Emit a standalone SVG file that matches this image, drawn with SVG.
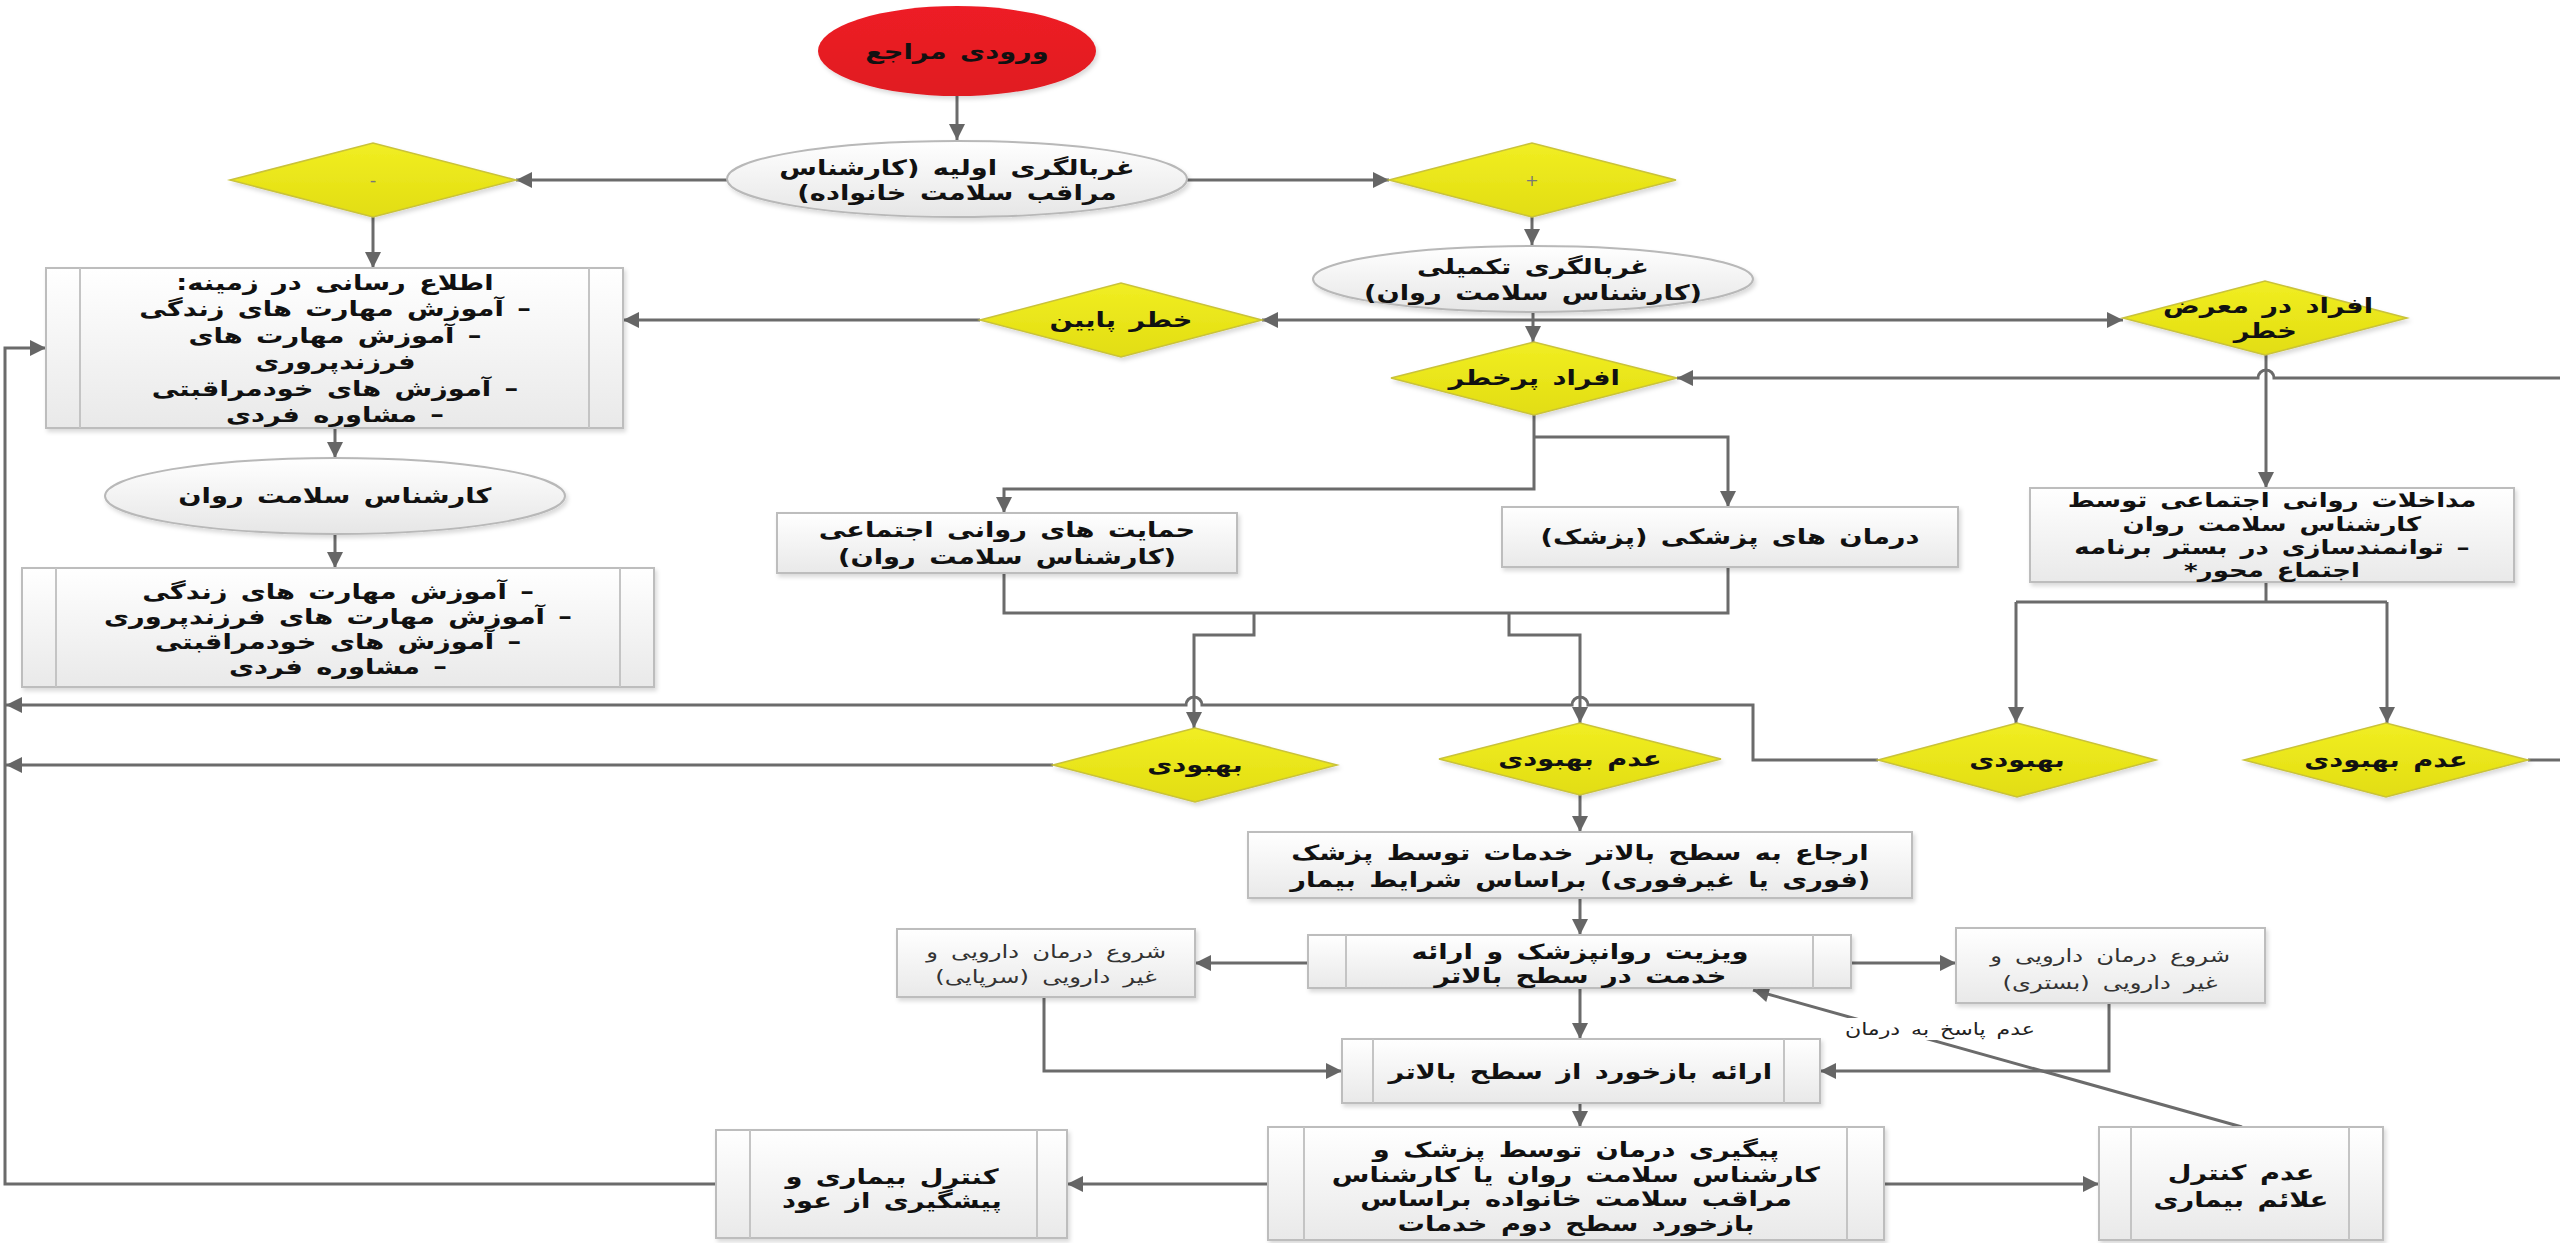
<svg xmlns="http://www.w3.org/2000/svg" width="2560" height="1243" viewBox="0 0 2560 1243">
<defs>
<linearGradient id="gBox" x1="0" y1="0" x2="0" y2="1"><stop offset="0" stop-color="#ffffff"/><stop offset="1" stop-color="#e9e9e9"/></linearGradient>
<linearGradient id="gEll" x1="0" y1="0" x2="0" y2="1"><stop offset="0" stop-color="#ffffff"/><stop offset="1" stop-color="#e6e6e6"/></linearGradient>
<linearGradient id="gDia" x1="0" y1="0" x2="0" y2="1"><stop offset="0" stop-color="#f1ee22"/><stop offset="1" stop-color="#e2dd12"/></linearGradient>
<linearGradient id="gRed" x1="0" y1="0" x2="0" y2="1"><stop offset="0" stop-color="#ee1c25"/><stop offset="1" stop-color="#e01a22"/></linearGradient>
<filter id="sh" x="-5%" y="-5%" width="110%" height="120%"><feDropShadow dx="2" dy="3" stdDeviation="2" flood-color="#000" flood-opacity="0.15"/></filter>
<marker id="ar" viewBox="0 0 10 10" refX="10" refY="5" markerWidth="18" markerHeight="16" markerUnits="userSpaceOnUse" orient="auto"><path d="M0,0 L10,5 L0,10 z" fill="#666"/></marker>
</defs>
<style>
.conn{fill:none;stroke:#6b6b6b;stroke-width:3}
.box{fill:url(#gBox);stroke:#bdbdbd;stroke-width:2;filter:url(#sh)}
.inner{stroke:#c4c4c4;stroke-width:2}
.ell{fill:url(#gEll);stroke:#b8b8b8;stroke-width:2;filter:url(#sh)}
.dia{fill:url(#gDia);stroke:#c9c23a;stroke-width:1.5;filter:url(#sh)}
.red{fill:url(#gRed);filter:url(#sh)}
text{font-family:"DejaVu Sans",sans-serif;fill:#111;text-anchor:middle;direction:rtl;transform-box:fill-box;transform-origin:center}
.t{font-size:21px;font-weight:bold;word-spacing:3px;transform:scaleX(1.3)}
.tm{font-size:20px;font-weight:bold;word-spacing:3px;transform:scaleX(1.3)}
.ts{font-size:18px;font-weight:normal;fill:#333;word-spacing:4px;transform:scaleX(1.35)}
.tl{font-size:17px;font-weight:normal;fill:#222;word-spacing:3px;transform:scaleX(1.3)}
.sym{font-size:18px;font-weight:normal;fill:#777}
</style>
<rect width="2560" height="1243" fill="#ffffff"/>

<g id="connectors">
<path class="conn" d="M957,96 V140" marker-end="url(#ar)"/>
<path class="conn" d="M727,180 H516" marker-end="url(#ar)"/>
<path class="conn" d="M1187,180 H1389" marker-end="url(#ar)"/>
<path class="conn" d="M373,217 V268" marker-end="url(#ar)"/>
<path class="conn" d="M1532,217 V245" marker-end="url(#ar)"/>
<path class="conn" d="M1533,312 V342" marker-end="url(#ar)"/>
<path class="conn" d="M1533,320 H1262" marker-end="url(#ar)"/>
<path class="conn" d="M1533,320 H2123" marker-end="url(#ar)"/>
<path class="conn" d="M980,320 H623" marker-end="url(#ar)"/>
<path class="conn" d="M335,428 V458" marker-end="url(#ar)"/>
<path class="conn" d="M335,534 V568" marker-end="url(#ar)"/>
<path class="conn" d="M2266,355 V488" marker-end="url(#ar)"/>
<path class="conn" d="M2560,378 H2274 A8,8 0 0 0 2258,378 H1677" marker-end="url(#ar)"/>
<path class="conn" d="M1534,415 V489 H1004 V513" marker-end="url(#ar)"/>
<path class="conn" d="M1534,437 H1728 V507" marker-end="url(#ar)"/>
<path class="conn" d="M1004,573 V613 H1728 V567"/>
<path class="conn" d="M1254,613 V635 H1194 V728" marker-end="url(#ar)"/>
<path class="conn" d="M1509,613 V635 H1580 V723" marker-end="url(#ar)"/>
<path class="conn" d="M1878,760 H1753 V705 H1588 A8,8 0 0 0 1572,705 H1202 A8,8 0 0 0 1186,705 H6" marker-end="url(#ar)"/>
<path class="conn" d="M1053,765 H6" marker-end="url(#ar)"/>
<path class="conn" d="M2266,582 V602"/>
<path class="conn" d="M2016,602 H2387"/>
<path class="conn" d="M2016,602 V723" marker-end="url(#ar)"/>
<path class="conn" d="M2387,602 V723" marker-end="url(#ar)"/>
<path class="conn" d="M2528,760 H2560"/>
<path class="conn" d="M1580,795 V832" marker-end="url(#ar)"/>
<path class="conn" d="M1580,898 V935" marker-end="url(#ar)"/>
<path class="conn" d="M1308,963 H1195" marker-end="url(#ar)"/>
<path class="conn" d="M1851,963 H1956" marker-end="url(#ar)"/>
<path class="conn" d="M1580,988 V1039" marker-end="url(#ar)"/>
<path class="conn" d="M1044,997 V1071 H1342" marker-end="url(#ar)"/>
<path class="conn" d="M2109,1003 V1071 H1820" marker-end="url(#ar)"/>
<path class="conn" d="M1580,1103 V1127" marker-end="url(#ar)"/>
<path class="conn" d="M1268,1184 H1067" marker-end="url(#ar)"/>
<path class="conn" d="M1884,1184 H2099" marker-end="url(#ar)"/>
<path class="conn" d="M2242,1127 L1753,990" marker-end="url(#ar)"/>
<path class="conn" d="M716,1184 H5 V348 H46" marker-end="url(#ar)"/>
<g id="label-no-response">
<rect x="1834" y="1018" width="212" height="22" fill="#ffffff"/>
<text class="tl" x="1940" y="1035">عدم پاسخ به درمان</text>
</g>
</g>

<g id="n-entry">
<ellipse class="red" cx="957" cy="51" rx="139" ry="45"/>
<text class="t" x="957" y="59">ورودی مراجع</text>
</g>
<g id="n-primary">
<ellipse class="ell" cx="957" cy="179" rx="230" ry="38"/>
<text class="t" x="957" y="175">غربالگری اولیه (کارشناس</text>
<text class="t" x="957" y="200">مراقب سلامت خانواده)</text>
</g>
<g id="d-minus">
<polygon class="dia" points="230,180 373,143 516,180 373,217"/>
<text class="sym" x="373" y="186">-</text>
</g>
<g id="d-plus">
<polygon class="dia" points="1389,180 1532,143 1676,180 1532,217"/>
<text class="sym" x="1532" y="186" style="font-size:16px">+</text>
</g>
<g id="n-complementary">
<ellipse class="ell" cx="1533" cy="279" rx="220" ry="33"/>
<text class="t" x="1533" y="274">غربالگری تکمیلی</text>
<text class="t" x="1533" y="300">(کارشناس سلامت روان)</text>
</g>
<g id="d-lowrisk">
<polygon class="dia" points="980,320 1121,283 1262,320 1121,357"/>
<text class="t" x="1121" y="327">خطر پایین</text>
</g>
<g id="d-atrisk">
<polygon class="dia" points="2123,318 2265,281 2407,318 2265,355"/>
<text class="t" x="2268" y="313">افراد در معرض</text>
<text class="t" x="2265" y="338">خطر</text>
</g>
<g id="d-highrisk">
<polygon class="dia" points="1391,378 1534,342 1677,378 1534,415"/>
<text class="t" x="1534" y="385">افراد پرخطر</text>
</g>
<g id="n-info">
<rect class="box" x="46" y="268" width="577" height="160"/>
<line class="inner" x1="80" y1="268" x2="80" y2="428"/>
<line class="inner" x1="589" y1="268" x2="589" y2="428"/>
<text class="t" x="335" y="290">اطلاع رسانی در زمینه:</text>
<text class="t" x="335" y="316">– آموزش مهارت های زندگی</text>
<text class="t" x="335" y="343">– آموزش مهارت های</text>
<text class="t" x="335" y="369">فرزندپروری</text>
<text class="t" x="335" y="396">– آموزش های خودمراقبتی</text>
<text class="t" x="335" y="422">– مشاوره فردی</text>
</g>
<g id="n-expert">
<ellipse class="ell" cx="335" cy="496" rx="230" ry="38"/>
<text class="t" x="335" y="503">کارشناس سلامت روان</text>
</g>
<g id="n-training">
<rect class="box" x="22" y="568" width="632" height="119"/>
<line class="inner" x1="56" y1="568" x2="56" y2="687"/>
<line class="inner" x1="620" y1="568" x2="620" y2="687"/>
<text class="t" x="338" y="599">– آموزش مهارت های زندگی</text>
<text class="t" x="338" y="624">– آموزش مهارت های فرزندپروری</text>
<text class="t" x="338" y="649">– آموزش های خودمراقبتی</text>
<text class="t" x="338" y="674">– مشاوره فردی</text>
</g>
<g id="n-psychosocial">
<rect class="box" x="777" y="513" width="460" height="60"/>
<text class="t" x="1007" y="537">حمایت های روانی اجتماعی</text>
<text class="t" x="1007" y="564">(کارشناس سلامت روان)</text>
</g>
<g id="n-medical">
<rect class="box" x="1502" y="507" width="456" height="60"/>
<text class="t" x="1730" y="544">درمان های پزشکی (پزشک)</text>
</g>
<g id="n-interventions">
<rect class="box" x="2030" y="488" width="484" height="94"/>
<text class="tm" x="2272" y="507">مداخلات روانی اجتماعی توسط</text>
<text class="tm" x="2272" y="531">کارشناس سلامت روان</text>
<text class="tm" x="2272" y="554">– توانمندسازی در بستر برنامه</text>
<text class="tm" x="2272" y="577">اجتماع محور*</text>
</g>
<g id="d-improve-c">
<polygon class="dia" points="1053,765 1195,728 1337,765 1195,802"/>
<text class="t" x="1195" y="772">بهبودی</text>
</g>
<g id="d-noimprove-c">
<polygon class="dia" points="1439,759 1580,723 1721,759 1580,795"/>
<text class="t" x="1580" y="766">عدم بهبودی</text>
</g>
<g id="d-improve-r">
<polygon class="dia" points="1878,760 2017,723 2156,760 2017,797"/>
<text class="t" x="2017" y="767">بهبودی</text>
</g>
<g id="d-noimprove-r">
<polygon class="dia" points="2244,760 2386,723 2528,760 2386,797"/>
<text class="t" x="2386" y="767">عدم بهبودی</text>
</g>
<g id="n-referral">
<rect class="box" x="1248" y="832" width="664" height="66"/>
<text class="t" x="1580" y="860">ارجاع به سطح بالاتر خدمات توسط پزشک</text>
<text class="t" x="1580" y="887">(فوری یا غیرفوری) براساس شرایط بیمار</text>
</g>
<g id="n-visit">
<rect class="box" x="1308" y="935" width="543" height="53"/>
<line class="inner" x1="1346" y1="935" x2="1346" y2="988"/>
<line class="inner" x1="1813" y1="935" x2="1813" y2="988"/>
<text class="t" x="1580" y="959">ویزیت روانپزشک و ارائه</text>
<text class="t" x="1580" y="983">خدمت در سطح بالاتر</text>
</g>
<g id="n-outpatient">
<rect class="box" x="897" y="929" width="298" height="68"/>
<text class="ts" x="1046" y="958">شروع درمان دارویی و</text>
<text class="ts" x="1046" y="983">غیر دارویی (سرپایی)</text>
</g>
<g id="n-inpatient">
<rect class="box" x="1956" y="928" width="309" height="75"/>
<text class="ts" x="2110" y="962">شروع درمان دارویی و</text>
<text class="ts" x="2110" y="989">غیر دارویی (بستری)</text>
</g>
<g id="n-feedback">
<rect class="box" x="1342" y="1039" width="478" height="64"/>
<line class="inner" x1="1373" y1="1039" x2="1373" y2="1103"/>
<line class="inner" x1="1784" y1="1039" x2="1784" y2="1103"/>
<text class="t" x="1580" y="1079">ارائه بازخورد از سطح بالاتر</text>
</g>
<g id="n-followup">
<rect class="box" x="1268" y="1127" width="616" height="113"/>
<line class="inner" x1="1304" y1="1127" x2="1304" y2="1240"/>
<line class="inner" x1="1847" y1="1127" x2="1847" y2="1240"/>
<text class="t" x="1576" y="1157">پیگیری درمان توسط پزشک و</text>
<text class="t" x="1576" y="1182">کارشناس سلامت روان یا کارشناس</text>
<text class="t" x="1576" y="1206">مراقب سلامت خانواده براساس</text>
<text class="t" x="1576" y="1231">بازخورد سطح دوم خدمات</text>
</g>
<g id="n-control">
<rect class="box" x="716" y="1130" width="351" height="108"/>
<line class="inner" x1="750" y1="1130" x2="750" y2="1238"/>
<line class="inner" x1="1037" y1="1130" x2="1037" y2="1238"/>
<text class="t" x="892" y="1184">کنترل بیماری و</text>
<text class="t" x="892" y="1208">پیشگیری از عود</text>
</g>
<g id="n-nocontrol">
<rect class="box" x="2099" y="1127" width="284" height="113"/>
<line class="inner" x1="2131" y1="1127" x2="2131" y2="1240"/>
<line class="inner" x1="2349" y1="1127" x2="2349" y2="1240"/>
<text class="t" x="2241" y="1180">عدم کنترل</text>
<text class="t" x="2241" y="1207">علائم بیماری</text>
</g>
</svg>
